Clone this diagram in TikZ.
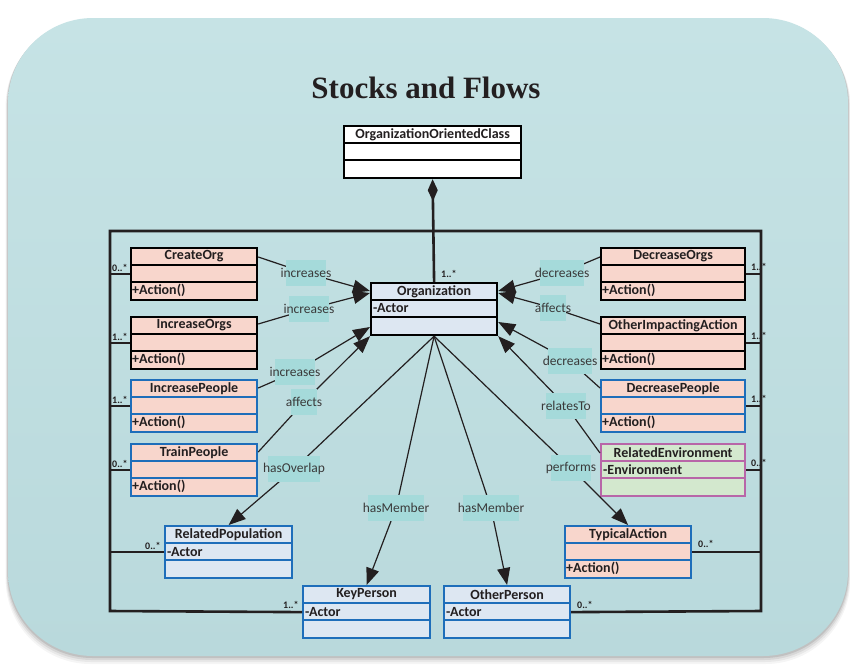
\documentclass[tikz,border=0pt]{standalone}
\usepackage{fontspec}
\setmainfont{Carlito}
\newfontfamily\headingfont{Liberation Serif}
\usetikzlibrary{arrows.meta}

\definecolor{panelA}{HTML}{C6E3E5}
\definecolor{panelB}{HTML}{B9D9DC}
\definecolor{salmon}{HTML}{F8D6CC}
\definecolor{paleblue}{HTML}{DDE7F2}
\definecolor{palegreen}{HTML}{D3E8CE}
\definecolor{umlblue}{HTML}{1E6EBA}
\definecolor{umlmagenta}{HTML}{B866A8}
\definecolor{lblfill}{HTML}{A5DADA}
\definecolor{lbltext}{HTML}{3A3A3A}
\definecolor{inkdark}{HTML}{231F20}

% one UML class: name, left x, top y, width, fill, border, title, attribute, operation
\newcommand{\umlclass}[9]{%
  \node[classbox, fill=#5, draw=#6, minimum width=#4pt] (#1) at (#2,#3) {};
  \draw[sepline, draw=#6] ([yshift=-18pt]#1.north west) -- ([yshift=-18pt]#1.north east);
  \draw[sepline, draw=#6] ([yshift=-35pt]#1.north west) -- ([yshift=-35pt]#1.north east);
  \node[ctitle] (#1-t) at ([yshift=-9.5pt]#1.north) {#7};
  \node[cmember] (#1-a) at ([xshift=3pt,yshift=-26.5pt]#1.north west) {#8};
  \node[cmember] (#1-o) at ([xshift=2pt,yshift=-43.5pt]#1.north west) {#9};
}

\begin{document}
\begin{tikzpicture}[x=1pt,y=-1pt,
  classbox/.style={rectangle, line width=2.2pt, inner sep=0pt, anchor=north west, minimum height=52pt},
  sepline/.style={line width=1.8pt},
  ctitle/.style={font=\bfseries\fontsize{14}{15}\selectfont, text=inkdark, inner sep=0pt},
  cmember/.style={font=\bfseries\fontsize{14}{15}\selectfont, text=inkdark, inner sep=0pt, anchor=west},
  flow/.style={line width=1.2pt, draw=inkdark, -{Triangle[length=17pt,width=13pt]}},
  assoc/.style={line width=2.6pt, draw=inkdark},
  elabel/.style={fill=lblfill, text=lbltext, font=\fontsize{13.5}{14}\selectfont, inner xsep=-5pt, inner ysep=0pt, minimum height=26pt},
  mult/.style={font=\bfseries\fontsize{10}{11}\selectfont, text=inkdark, inner sep=0pt, anchor=base west}]

\useasboundingbox (0,0) rectangle (850,665);
\fill[white] (0,0) rectangle (850,665);

% soft shadow and panel
\foreach \d/\o in {8/0.04,6/0.05,4/0.07,2/0.10}
  \fill[black, opacity=\o, rounded corners=85pt] (8-\d*0.3,18+\d*0.4) rectangle (848+\d*0.3,656+\d);
\shade[top color=panelA, bottom color=panelB, rounded corners=85pt] (8,18) rectangle (848,656);

% title
\node[font=\headingfont\bfseries\fontsize{31}{34}\selectfont, text=inkdark] (title) at (426,88) {Stocks and Flows};

% classes
\umlclass{ooc}{343}{125}{177}{white}{black}{OrganizationOrientedClass}{}{}
\umlclass{org}{370}{282}{126}{paleblue}{black}{Organization}{-Actor}{}
\umlclass{createorg}{130}{247}{126}{salmon}{black}{CreateOrg}{}{+Action()}
\umlclass{incorgs}{130}{316}{126}{salmon}{black}{IncreaseOrgs}{}{+Action()}
\umlclass{incpeople}{130}{379}{126}{salmon}{umlblue}{IncreasePeople}{}{+Action()}
\umlclass{train}{130}{443}{126}{salmon}{umlblue}{TrainPeople}{}{+Action()}
\umlclass{relpop}{164}{525}{127}{paleblue}{umlblue}{RelatedPopulation}{-Actor}{}
\umlclass{kp}{302}{585}{127}{paleblue}{umlblue}{KeyPerson}{-Actor}{}
\umlclass{op}{443}{585}{126}{paleblue}{umlblue}{OtherPerson}{-Actor}{}
\umlclass{typ}{564}{525}{126}{salmon}{umlblue}{TypicalAction}{}{+Action()}
\umlclass{relenv}{600}{443}{144}{palegreen}{umlmagenta}{RelatedEnvironment}{-Environment}{}
\umlclass{decpeople}{600}{379}{144}{salmon}{umlblue}{DecreasePeople}{}{+Action()}
\umlclass{otherimp}{600}{316}{144}{salmon}{black}{OtherImpactingAction}{}{+Action()}
\umlclass{decorgs}{600}{247}{144}{salmon}{black}{DecreaseOrgs}{}{+Action()}

% multiplicities (drawn under the frame lines)
\node[mult] (m-create) at (112,271) {0..*};
\node[mult] (m-incorgs) at (112,340) {1..*};
\node[mult] (m-incpeople) at (112,403) {1..*};
\node[mult] (m-train) at (112,467) {0..*};
\node[mult] (m-relpop) at (145,549) {0..*};
\node[mult] (m-kp) at (283,608) {1..*};
\node[mult] (m-op) at (577,608) {0..*};
\node[mult] (m-typ) at (698,547) {0..*};
\node[mult] (m-decorgs) at (751,270) {1..*};
\node[mult] (m-otherimp) at (751,339) {1..*};
\node[mult] (m-decpeople) at (751,402) {1..*};
\node[mult] (m-relenv) at (751,466) {0..*};
\node[mult] (m-org) at (441,277) {1..*};

% frame of associations
\coordinate (ftl) at (110,231);
\coordinate (ftr) at (761,231);
\coordinate (fbl) at (110,611);
\coordinate (fbr) at (761,611);
\draw[assoc, line join=miter] (kp.west) -- (fbl) -- (ftl) -- (ftr) -- (fbr) -- (op.east);
\foreach \n in {createorg,incorgs,incpeople,train,relpop}
  \draw[assoc] (ftl |- \n.west) -- (\n.west);
\foreach \n in {decorgs,otherimp,decpeople,relenv,typ}
  \draw[assoc] (\n.east) -- (ftr |- \n.east);

% composition
\draw[assoc, {Diamond[length=22pt,width=10pt]}-] (ooc.south) -- (org.north);

% label anchor points on the flows
\coordinate (c1) at (306,273);
\coordinate (c2) at (309,309);
\coordinate (c3) at (295,372);
\coordinate (c4) at (304,402);
\coordinate (c5) at (294,469);
\coordinate (c6) at (396,508);
\coordinate (c7) at (491,508);
\coordinate (c8) at (571,468);
\coordinate (c9) at (566,406);
\coordinate (c10) at (570,361);
\coordinate (c11) at (553,308);
\coordinate (c12) at (562,273);

% flows into Organization
\draw[flow] ([yshift=-10pt]createorg.north east) -- (c1) -- ([yshift=-9pt]org.north west);
\draw[flow] ([yshift=-8pt]incorgs.north east) -- (c2) -- ([yshift=-11pt]org.north west);
\draw[flow] ([yshift=-9pt]incpeople.north east) -- (c3) -- ([yshift=-45pt]org.north west);
\draw[flow] ([yshift=-9pt]train.north east) -- (c4) -- (org.south west);
\draw[flow] ([yshift=-10pt]decorgs.north west) -- (c12) -- ([yshift=-9pt]org.north east);
\draw[flow] ([yshift=-8pt]otherimp.north west) -- (c11) -- ([yshift=-11pt]org.north east);
\draw[flow] ([yshift=-9pt]decpeople.north west) -- (c10) -- ([yshift=-40pt]org.north east);
\draw[flow] ([yshift=-10pt]relenv.north west) -- (c9) -- (org.south east);

% flows out of Organization
\draw[flow] (org.south) -- (c5) -- (relpop.north);
\draw[flow] (org.south) -- (c6) -- (kp.north);
\draw[flow] (org.south) -- (c7) -- (op.north);
\draw[flow] (org.south) -- (c8) -- (typ.north);

% flow labels
\node[elabel] (l1) at (c1) {increases};
\node[elabel] (l2) at (c2) {increases};
\node[elabel] (l3) at (c3) {increases};
\node[elabel] (l4) at (c4) {affects};
\node[elabel] (l5) at (c5) {hasOverlap};
\node[elabel] (l6) at (c6) {hasMember};
\node[elabel] (l7) at (c7) {hasMember};
\node[elabel] (l8) at (c8) {performs};
\node[elabel] (l9) at (c9) {relatesTo};
\node[elabel] (l10) at (c10) {decreases};
\node[elabel] (l11) at (c11) {affects};
\node[elabel] (l12) at (c12) {decreases};
\end{tikzpicture}
\end{document}
